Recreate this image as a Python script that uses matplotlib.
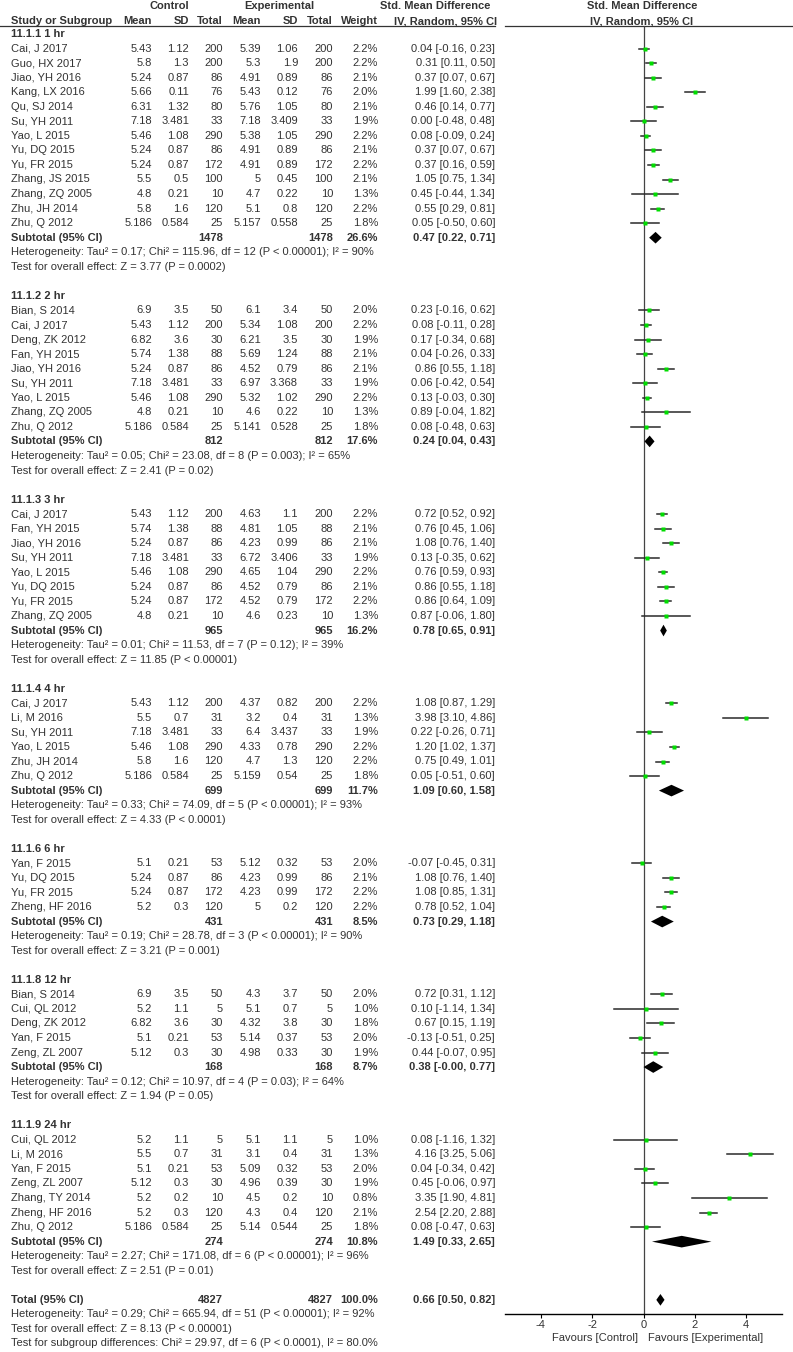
import matplotlib
matplotlib.use('Agg')
import matplotlib.pyplot as plt

plt.rcParams['font.family'] = ['Liberation Sans', 'DejaVu Sans']
FS = 8

# ---- subgroups ----
group_labels = ['11.1.1 1 hr', '11.1.2 2 hr', '11.1.3 3 hr', '11.1.4 4 hr',
                '11.1.6 6 hr', '11.1.8 12 hr', '11.1.9 24 hr']
group_sizes = [13, 9, 8, 6, 4, 5, 7]
sub_n = [1478, 812, 965, 699, 431, 168, 274]
sub_weight = [26.6, 17.6, 16.2, 11.7, 8.5, 8.7, 10.8]
sub_smd = [0.47, 0.24, 0.78, 1.09, 0.73, 0.38, 1.49]
sub_lo = [0.22, 0.04, 0.65, 0.60, 0.29, -0.00, 0.33]
sub_hi = [0.71, 0.43, 0.91, 1.58, 1.18, 0.77, 2.65]
sub_het = ['Tau\u00b2 = 0.17; Chi\u00b2 = 115.96, df = 12 (P < 0.00001); I\u00b2 = 90%',
           'Tau\u00b2 = 0.05; Chi\u00b2 = 23.08, df = 8 (P = 0.003); I\u00b2 = 65%',
           'Tau\u00b2 = 0.01; Chi\u00b2 = 11.53, df = 7 (P = 0.12); I\u00b2 = 39%',
           'Tau\u00b2 = 0.33; Chi\u00b2 = 74.09, df = 5 (P < 0.00001); I\u00b2 = 93%',
           'Tau\u00b2 = 0.19; Chi\u00b2 = 28.78, df = 3 (P < 0.00001); I\u00b2 = 90%',
           'Tau\u00b2 = 0.12; Chi\u00b2 = 10.97, df = 4 (P = 0.03); I\u00b2 = 64%',
           'Tau\u00b2 = 2.27; Chi\u00b2 = 171.08, df = 6 (P < 0.00001); I\u00b2 = 96%']
sub_z = ['Z = 3.77 (P = 0.0002)', 'Z = 2.41 (P = 0.02)', 'Z = 11.85 (P < 0.00001)',
         'Z = 4.33 (P < 0.0001)', 'Z = 3.21 (P = 0.001)', 'Z = 1.94 (P = 0.05)',
         'Z = 2.51 (P = 0.01)']

# ---- studies ----
study_names = [
    'Cai, J 2017', 'Guo, HX 2017', 'Jiao, YH 2016', 'Kang, LX 2016', 'Qu, SJ 2014',
    'Su, YH 2011', 'Yao, L 2015', 'Yu, DQ 2015', 'Yu, FR 2015', 'Zhang, JS 2015',
    'Zhang, ZQ 2005', 'Zhu, JH 2014', 'Zhu, Q 2012',
    'Bian, S 2014', 'Cai, J 2017', 'Deng, ZK 2012', 'Fan, YH 2015', 'Jiao, YH 2016',
    'Su, YH 2011', 'Yao, L 2015', 'Zhang, ZQ 2005', 'Zhu, Q 2012',
    'Cai, J 2017', 'Fan, YH 2015', 'Jiao, YH 2016', 'Su, YH 2011', 'Yao, L 2015',
    'Yu, DQ 2015', 'Yu, FR 2015', 'Zhang, ZQ 2005',
    'Cai, J 2017', 'Li, M 2016', 'Su, YH 2011', 'Yao, L 2015', 'Zhu, JH 2014', 'Zhu, Q 2012',
    'Yan, F 2015', 'Yu, DQ 2015', 'Yu, FR 2015', 'Zheng, HF 2016',
    'Bian, S 2014', 'Cui, QL 2012', 'Deng, ZK 2012', 'Yan, F 2015', 'Zeng, ZL 2007',
    'Cui, QL 2012', 'Li, M 2016', 'Yan, F 2015', 'Zeng, ZL 2007', 'Zhang, TY 2014',
    'Zheng, HF 2016', 'Zhu, Q 2012']
ctrl_mean = ['5.43', '5.8', '5.24', '5.66', '6.31', '7.18', '5.46', '5.24', '5.24', '5.5', '4.8', '5.8', '5.186',
             '6.9', '5.43', '6.82', '5.74', '5.24', '7.18', '5.46', '4.8', '5.186',
             '5.43', '5.74', '5.24', '7.18', '5.46', '5.24', '5.24', '4.8',
             '5.43', '5.5', '7.18', '5.46', '5.8', '5.186',
             '5.1', '5.24', '5.24', '5.2',
             '6.9', '5.2', '6.82', '5.1', '5.12',
             '5.2', '5.5', '5.1', '5.12', '5.2', '5.2', '5.186']
ctrl_sd = ['1.12', '1.3', '0.87', '0.11', '1.32', '3.481', '1.08', '0.87', '0.87', '0.5', '0.21', '1.6', '0.584',
           '3.5', '1.12', '3.6', '1.38', '0.87', '3.481', '1.08', '0.21', '0.584',
           '1.12', '1.38', '0.87', '3.481', '1.08', '0.87', '0.87', '0.21',
           '1.12', '0.7', '3.481', '1.08', '1.6', '0.584',
           '0.21', '0.87', '0.87', '0.3',
           '3.5', '1.1', '3.6', '0.21', '0.3',
           '1.1', '0.7', '0.21', '0.3', '0.2', '0.3', '0.584']
ctrl_n = [200, 200, 86, 76, 80, 33, 290, 86, 172, 100, 10, 120, 25,
          50, 200, 30, 88, 86, 33, 290, 10, 25,
          200, 88, 86, 33, 290, 86, 172, 10,
          200, 31, 33, 290, 120, 25,
          53, 86, 172, 120,
          50, 5, 30, 53, 30,
          5, 31, 53, 30, 10, 120, 25]
exp_mean = ['5.39', '5.3', '4.91', '5.43', '5.76', '7.18', '5.38', '4.91', '4.91', '5', '4.7', '5.1', '5.157',
            '6.1', '5.34', '6.21', '5.69', '4.52', '6.97', '5.32', '4.6', '5.141',
            '4.63', '4.81', '4.23', '6.72', '4.65', '4.52', '4.52', '4.6',
            '4.37', '3.2', '6.4', '4.33', '4.7', '5.159',
            '5.12', '4.23', '4.23', '5',
            '4.3', '5.1', '4.32', '5.14', '4.98',
            '5.1', '3.1', '5.09', '4.96', '4.5', '4.3', '5.14']
exp_sd = ['1.06', '1.9', '0.89', '0.12', '1.05', '3.409', '1.05', '0.89', '0.89', '0.45', '0.22', '0.8', '0.558',
          '3.4', '1.08', '3.5', '1.24', '0.79', '3.368', '1.02', '0.22', '0.528',
          '1.1', '1.05', '0.99', '3.406', '1.04', '0.79', '0.79', '0.23',
          '0.82', '0.4', '3.437', '0.78', '1.3', '0.54',
          '0.32', '0.99', '0.99', '0.2',
          '3.7', '0.7', '3.8', '0.37', '0.33',
          '1.1', '0.4', '0.32', '0.39', '0.2', '0.4', '0.544']
exp_n = ctrl_n
weights = [2.2, 2.2, 2.1, 2.0, 2.1, 1.9, 2.2, 2.1, 2.2, 2.1, 1.3, 2.2, 1.8,
           2.0, 2.2, 1.9, 2.1, 2.1, 1.9, 2.2, 1.3, 1.8,
           2.2, 2.1, 2.1, 1.9, 2.2, 2.1, 2.2, 1.3,
           2.2, 1.3, 1.9, 2.2, 2.2, 1.8,
           2.0, 2.1, 2.2, 2.2,
           2.0, 1.0, 1.8, 2.0, 1.9,
           1.0, 1.3, 2.0, 1.9, 0.8, 2.1, 1.8]
smd = [0.04, 0.31, 0.37, 1.99, 0.46, 0.00, 0.08, 0.37, 0.37, 1.05, 0.45, 0.55, 0.05,
       0.23, 0.08, 0.17, 0.04, 0.86, 0.06, 0.13, 0.89, 0.08,
       0.72, 0.76, 1.08, 0.13, 0.76, 0.86, 0.86, 0.87,
       1.08, 3.98, 0.22, 1.20, 0.75, 0.05,
       -0.07, 1.08, 1.08, 0.78,
       0.72, 0.10, 0.67, -0.13, 0.44,
       0.08, 4.16, 0.04, 0.45, 3.35, 2.54, 0.08]
ci_lo = [-0.16, 0.11, 0.07, 1.60, 0.14, -0.48, -0.09, 0.07, 0.16, 0.75, -0.44, 0.29, -0.50,
         -0.16, -0.11, -0.34, -0.26, 0.55, -0.42, -0.03, -0.04, -0.48,
         0.52, 0.45, 0.76, -0.35, 0.59, 0.55, 0.64, -0.06,
         0.87, 3.10, -0.26, 1.02, 0.49, -0.51,
         -0.45, 0.76, 0.85, 0.52,
         0.31, -1.14, 0.15, -0.51, -0.07,
         -1.16, 3.25, -0.34, -0.06, 1.90, 2.20, -0.47]
ci_hi = [0.23, 0.50, 0.67, 2.38, 0.77, 0.48, 0.24, 0.67, 0.59, 1.34, 1.34, 0.81, 0.60,
         0.62, 0.28, 0.68, 0.33, 1.18, 0.54, 0.30, 1.82, 0.63,
         0.92, 1.06, 1.40, 0.62, 0.93, 1.18, 1.09, 1.80,
         1.29, 4.86, 0.71, 1.37, 1.01, 0.60,
         0.31, 1.40, 1.31, 1.04,
         1.12, 1.34, 1.19, 0.25, 0.95,
         1.32, 5.06, 0.42, 0.97, 4.81, 2.88, 0.63]

# ---- overall ----
total_n = 4827
total_smd, total_lo, total_hi = 0.66, 0.50, 0.82
total_het = 'Heterogeneity: Tau\u00b2 = 0.29; Chi\u00b2 = 665.94, df = 51 (P < 0.00001); I\u00b2 = 92%'
total_z = 'Test for overall effect: Z = 8.13 (P < 0.00001)'
subgroup_test = 'Test for subgroup differences: Chi\u00b2 = 29.97, df = 6 (P < 0.0001), I\u00b2 = 80.0%'
xticks = [-4, -2, 0, 2, 4]

# ---- layout (pixel based) ----
W, H = 793, 1352
ROW0, ROWH = 34.0, 14.55


def ry(px):
    return (px - ROW0) / ROWH


col_x = [152, 189, 223, 261, 298, 333, 378]
CI_X = 495
NAME_X = 11
PLOT_L, PLOT_R = 505, 782
PLOT_TOP, PLOT_BOT = 26, 1314

fig = plt.figure(figsize=(W / 100, H / 100), dpi=100)
ax = fig.add_axes([0, 0, 1, 1])
ax.set_xlim(0, W)
ax.set_ylim(ry(H), ry(0))
ax.axis('off')

fa = fig.add_axes([PLOT_L / W, (H - PLOT_BOT) / H, (PLOT_R - PLOT_L) / W, (PLOT_BOT - PLOT_TOP) / H])
fa.set_xlim(-5.4, 5.4)
fa.set_ylim(ry(PLOT_BOT), ry(PLOT_TOP))
fa.patch.set_alpha(0)
for s in ['top', 'left', 'right']:
    fa.spines[s].set_visible(False)
fa.spines['bottom'].set_linewidth(1.0)
fa.set_yticks([])
fa.set_xticks(xticks)
fa.set_xticklabels([str(t) for t in xticks], fontsize=FS, color='#333333')
fa.tick_params(axis='x', length=3, width=0.8, pad=1)
fa.axvline(0, color='#444444', lw=0.9, zorder=1)

# header
hy1, hy2 = ry(6), ry(21)
bold = dict(fontsize=FS, fontweight='bold', color='#333333', va='center')
ax.text(169, hy1, 'Control', ha='center', **bold)
ax.text(279, hy1, 'Experimental', ha='center', **bold)
ax.text(435, hy1, 'Std. Mean Difference', ha='center', **bold)
ax.text(642, hy1, 'Std. Mean Difference', ha='center', **bold)
ax.text(NAME_X, hy2, 'Study or Subgroup', ha='left', **bold)
for x, t in zip(col_x, ['Mean', 'SD', 'Total', 'Mean', 'SD', 'Total', 'Weight']):
    ax.text(x, hy2, t, ha='right', **bold)
ax.text(446, hy2, 'IV, Random, 95% CI', ha='center', **bold)
ax.text(642, hy2, 'IV, Random, 95% CI', ha='center', **bold)
ax.plot([0, 495], [ry(26), ry(26)], color='#333333', lw=0.9)
ax.plot([505, W], [ry(26), ry(26)], color='#333333', lw=0.9)

norm = dict(fontsize=FS, color='#333333', va='center')
DH = 0.4  # diamond half height in rows


def diamond(y, c, lo, hi):
    fa.fill([lo, c, hi, c], [y, y - DH, y, y + DH], color='black', lw=0, zorder=3)


row = 0
k = 0
for g, label in enumerate(group_labels):
    ax.text(NAME_X, row, label, ha='left', **bold)
    row += 1
    for _ in range(group_sizes[g]):
        vals = [ctrl_mean[k], ctrl_sd[k], str(ctrl_n[k]), exp_mean[k], exp_sd[k],
                str(exp_n[k]), f'{weights[k]:.1f}%']
        ax.text(NAME_X, row, study_names[k], ha='left', **norm)
        for x, v in zip(col_x, vals):
            ax.text(x, row, v, ha='right', **norm)
        ax.text(CI_X, row, f'{smd[k]:.2f} [{ci_lo[k]:.2f}, {ci_hi[k]:.2f}]', ha='right', **norm)
        fa.plot([ci_lo[k], ci_hi[k]], [row, row], color='#2a2a2a', lw=1.1, zorder=2)
        fa.plot(smd[k], row, 's', color='#00dd00', mec='none', ms=2.2 + weights[k] * 0.2, zorder=4)
        row += 1
        k += 1
    ax.text(NAME_X, row, 'Subtotal (95% CI)', ha='left', **bold)
    ax.text(col_x[2], row, str(sub_n[g]), ha='right', **bold)
    ax.text(col_x[5], row, str(sub_n[g]), ha='right', **bold)
    ax.text(col_x[6], row, f'{sub_weight[g]:.1f}%', ha='right', **bold)
    ax.text(CI_X, row, f'{sub_smd[g]:.2f} [{sub_lo[g]:.2f}, {sub_hi[g]:.2f}]', ha='right', **bold)
    diamond(row, sub_smd[g], sub_lo[g], sub_hi[g])
    row += 1
    ax.text(NAME_X, row, 'Heterogeneity: ' + sub_het[g], ha='left', **norm)
    row += 1
    ax.text(NAME_X, row, 'Test for overall effect: ' + sub_z[g], ha='left', **norm)
    row += 2

ax.text(NAME_X, row, 'Total (95% CI)', ha='left', **bold)
ax.text(col_x[2], row, str(total_n), ha='right', **bold)
ax.text(col_x[5], row, str(total_n), ha='right', **bold)
ax.text(col_x[6], row, '100.0%', ha='right', **bold)
ax.text(CI_X, row, f'{total_smd:.2f} [{total_lo:.2f}, {total_hi:.2f}]', ha='right', **bold)
diamond(row, total_smd, total_lo, total_hi)
ax.text(NAME_X, row + 1, total_het, ha='left', **norm)
ax.text(NAME_X, row + 2, total_z, ha='left', **norm)
ax.text(NAME_X, row + 3, subgroup_test, ha='left', **norm)

ax.text(638, ry(1338), 'Favours [Control]', ha='right', **norm)
ax.text(648, ry(1338), 'Favours [Experimental]', ha='left', **norm)

fig.savefig('out.png', dpi=100)
